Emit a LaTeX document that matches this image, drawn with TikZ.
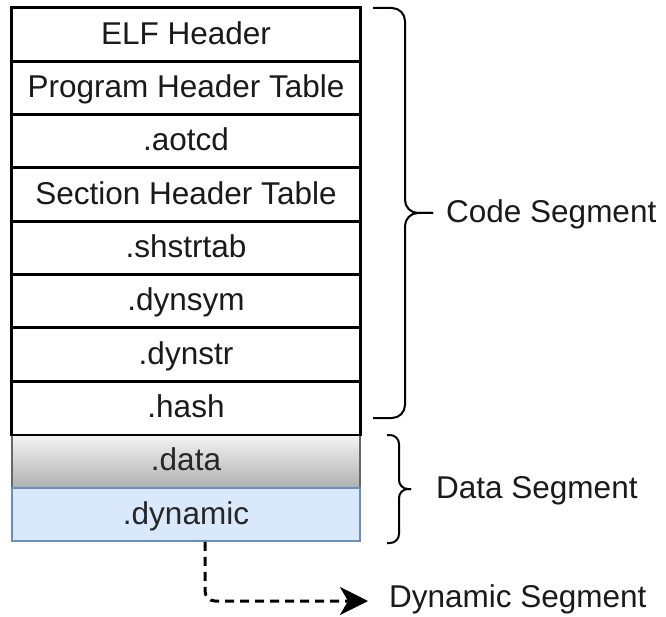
\documentclass[tikz,border=0pt]{standalone}
\usepackage{fontspec}
\setmainfont{Liberation Sans}
\usetikzlibrary{arrows.meta,positioning}
\definecolor{txt}{HTML}{1A1A1A}
\definecolor{grayline}{HTML}{666666}
\definecolor{graytop}{HTML}{F5F5F5}
\definecolor{graybot}{HTML}{B0B0B0}
\definecolor{bluefill}{HTML}{DAE8FC}
\definecolor{blueline}{HTML}{6C8EBF}
\tikzset{
  cell/.style={draw=black, line width=1.6pt, fill=white, minimum width=348pt,
    minimum height=53.3pt, inner sep=0pt, text height=22.5pt, text depth=3pt,
    text=txt, font=\fontsize{31.5}{35}\selectfont},
  graycell/.style={cell, draw=grayline, top color=graytop, bottom color=graybot, text=black!85},
  bluecell/.style={cell, draw=blueline, fill=bluefill, text=black!85},
  brace/.style={draw=black, line width=2pt},
  seglabel/.style={anchor=west, inner sep=0pt, text=txt, font=\fontsize{31.5}{35}\selectfont},
  dasharrow/.style={line width=3pt, dash pattern=on 9pt off 6pt,
    -{Stealth[length=28pt,width=28pt,inset=8pt]}, rounded corners=10pt}
}
\begin{document}
\begin{tikzpicture}[x=1pt,y=-1pt]
\useasboundingbox (0,0) rectangle (666,617);
% stacked sections of the file
\node[cell] (elf) at (186,34.65) {ELF Header};
\node[cell] (pht) at (186,87.95) {Program Header Table};
\node[cell] (aot) at (186,141.25) {.aotcd};
\node[cell] (sht) at (186,194.55) {Section Header Table};
\node[cell] (shs) at (186,247.85) {.shstrtab};
\node[cell] (dsy) at (186,301.15) {.dynsym};
\node[cell] (dst) at (186,354.45) {.dynstr};
\node[cell] (hsh) at (186,407.75) {.hash};
\node[graycell] (dat) at (186,461.05) {.data};
\node[bluecell] (dyn) at (186,514.35) {.dynamic};
% redraw the cell borders of the code part so the shared edges stay black
\foreach \n in {elf,pht,aot,sht,shs,dsy,dst,hsh}
  \draw[black, line width=1.6pt] (\n.north west) rectangle (\n.south east);
% segment braces
\draw[brace, rounded corners=13pt] (373,8) -- (405,8) -- (405,213) -- (433,213);
\draw[brace, rounded corners=13pt] (373,418) -- (405,418) -- (405,213) -- (433,213);
\draw[brace, rounded corners=9pt] (387,435) -- (399,435) -- (399,489) -- (411,489);
\draw[brace, rounded corners=9pt] (387,543) -- (399,543) -- (399,489) -- (411,489);
% segment labels
\node[seglabel] (code) at (446,214) {Code Segment};
\node[seglabel] (data) at (436,491) {Data Segment};
\node[seglabel] (dseg) at (389,599) {Dynamic Segment};
% link from .dynamic to its segment
\coordinate (tipend) at ([xshift=-21pt,yshift=-2pt]dseg.west);
\draw[dasharrow] ([xshift=19pt]dyn.south) |- (tipend);
\end{tikzpicture}
\end{document}
